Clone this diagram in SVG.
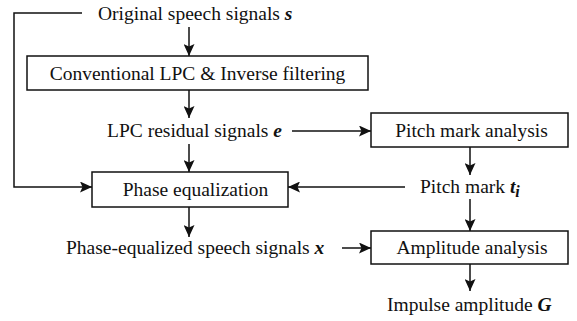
<svg xmlns="http://www.w3.org/2000/svg" width="577" height="321" viewBox="0 0 577 321">
  <style>
    text { font-family: "Liberation Serif", "Times New Roman", serif; font-size: 19.5px; fill: #111; }
    .v { font-weight: bold; font-style: italic; }
    .box { fill: #fff; stroke: #111; stroke-width: 1.5; }
    .conn { fill: none; stroke: #111; stroke-width: 1.5; marker-end: url(#ah); }
  </style>
  <defs>
    <marker id="ah" markerUnits="userSpaceOnUse" markerWidth="12" markerHeight="11" refX="12" refY="5.5" orient="auto">
      <path d="M0,0 L12,5.5 L0,11 L2.5,5.5 z" fill="#111"/>
    </marker>
  </defs>
  <rect width="577" height="321" fill="#fff"/>

  <g id="connectors">
    <line class="conn" x1="189" y1="27" x2="189" y2="56"/>
    <polyline class="conn" points="82,13 14,13 14,187 92,187"/>
    <line class="conn" x1="189" y1="90" x2="189" y2="118"/>
    <line class="conn" x1="189" y1="144" x2="189" y2="172"/>
    <line class="conn" x1="292" y1="131" x2="371" y2="131"/>
    <line class="conn" x1="470" y1="147" x2="470" y2="175"/>
    <line class="conn" x1="405" y1="187" x2="288" y2="187"/>
    <line class="conn" x1="189" y1="207" x2="189" y2="237"/>
    <line class="conn" x1="470" y1="199" x2="470" y2="231"/>
    <line class="conn" x1="342" y1="248" x2="371" y2="248"/>
    <line class="conn" x1="470" y1="264" x2="470" y2="291"/>
  </g>

  <g id="original">
    <text x="98" y="20">Original speech signals <tspan class="v">s</tspan></text>
  </g>
  <g id="lpc-box">
    <rect class="box" x="27" y="56" width="341" height="34"/>
    <text x="197.5" y="80" text-anchor="middle">Conventional LPC &amp; Inverse filtering</text>
  </g>
  <g id="residual">
    <text x="107" y="137">LPC residual signals <tspan class="v">e</tspan></text>
  </g>
  <g id="pitch-box">
    <rect class="box" x="371" y="113" width="197" height="34"/>
    <text x="471.5" y="137" text-anchor="middle">Pitch mark analysis</text>
  </g>
  <g id="phase-box">
    <rect class="box" x="92" y="172" width="196" height="35"/>
    <text x="195.5" y="196" text-anchor="middle">Phase equalization</text>
  </g>
  <g id="pitch-mark">
    <text x="420" y="193">Pitch mark <tspan class="v">t</tspan><tspan class="v" dy="4" font-size="16">i</tspan></text>
  </g>
  <g id="phase-eq">
    <text x="66" y="254">Phase-equalized speech signals <tspan class="v">x</tspan></text>
  </g>
  <g id="amp-box">
    <rect class="box" x="371" y="231" width="197" height="33"/>
    <text x="472" y="254" text-anchor="middle">Amplitude analysis</text>
  </g>
  <g id="impulse">
    <text x="387" y="311">Impulse amplitude <tspan class="v">G</tspan></text>
  </g>
</svg>
